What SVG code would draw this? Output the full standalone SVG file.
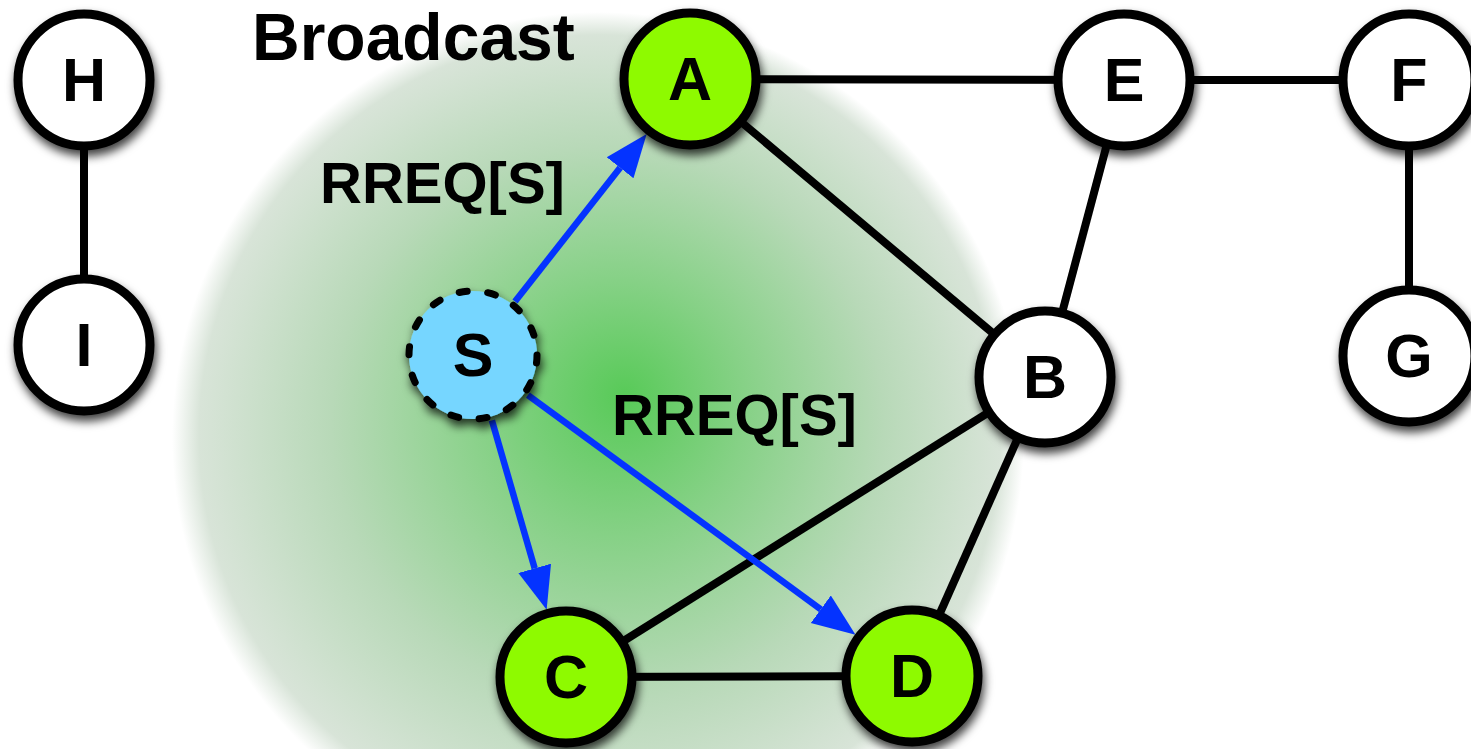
<svg xmlns="http://www.w3.org/2000/svg" width="1471" height="749" viewBox="0 0 1471 749">
  <defs>
    <radialGradient id="bcast" gradientUnits="userSpaceOnUse" cx="598" cy="438" r="426" fx="625" fy="395">
      <stop offset="0" stop-color="#58ca58"/>
      <stop offset="0.3" stop-color="#86d186"/>
      <stop offset="0.65" stop-color="#b8d9b8"/>
      <stop offset="0.94" stop-color="#d8e4d8"/>
      <stop offset="1" stop-color="#ffffff"/>
    </radialGradient>
    <filter id="shadow" x="-30%" y="-30%" width="160%" height="160%">
      <feDropShadow dx="2" dy="6" stdDeviation="5" flood-color="#000" flood-opacity="0.75"/>
    </filter>
    <marker id="arrow" markerUnits="userSpaceOnUse" markerWidth="44" markerHeight="36" refX="0" refY="17" orient="auto" viewBox="0 0 44 34">
      <path d="M0,0 L43,17 L0,34 z" fill="#0433ff"/>
    </marker>
    <style>
      .edge { stroke: #000; stroke-width: 8; fill: none; }
      .arr { stroke: #0433ff; stroke-width: 6.5; fill: none; marker-end: url(#arrow); }
      .node { stroke: #000; stroke-width: 9; filter: url(#shadow); }
      .white { fill: #ffffff; }
      .green { fill: #8efa00; }
      .src { fill: #76d6ff; stroke: #000; stroke-width: 7; stroke-dasharray: 8 20.72; stroke-linecap: round; filter: url(#shadow); }
      .lbl { font-family: "Liberation Sans", Arial, sans-serif; font-weight: bold; font-size: 61px; text-anchor: middle; fill: #000; }
      .txt { font-family: "Liberation Sans", Arial, sans-serif; font-weight: bold; fill: #000; }
    </style>
  </defs>

  <rect x="0" y="0" width="1471" height="749" fill="#ffffff"/>
  <circle cx="598" cy="438" r="426" fill="url(#bcast)"/>

  <text class="txt" x="252" y="60" font-size="66">Broadcast</text>
  <text class="txt" x="320" y="203" font-size="58">RREQ[S]</text>
  <text class="txt" x="612" y="435" font-size="58">RREQ[S]</text>

  <g id="connectors">
    <line class="edge" x1="84" y1="80" x2="84" y2="345"/>
    <line class="edge" x1="690" y1="79" x2="1124" y2="80"/>
    <line class="edge" x1="1124" y1="80" x2="1409" y2="80"/>
    <line class="edge" x1="690" y1="79" x2="1045" y2="377"/>
    <line class="edge" x1="1124" y1="80" x2="1045" y2="377"/>
    <line class="edge" x1="1409" y1="80" x2="1409" y2="356"/>
    <line class="edge" x1="1045" y1="377" x2="566" y2="677"/>
    <line class="edge" x1="1045" y1="377" x2="912" y2="676"/>
    <line class="edge" x1="566" y1="677" x2="912" y2="676"/>
    <line class="arr" x1="515" y1="301.5" x2="620.1" y2="167.8"/>
    <line class="arr" x1="491.9" y1="420.4" x2="534.7" y2="568.4"/>
    <line class="arr" x1="527.9" y1="395.1" x2="820.8" y2="609.3"/>
  </g>

  <g id="node-H"><circle class="node white" cx="84" cy="80" r="66"/><text class="lbl" x="84" y="101">H</text></g>
  <g id="node-I"><circle class="node white" cx="84" cy="345" r="66"/><text class="lbl" x="84" y="366">I</text></g>
  <g id="node-A"><circle class="node green" cx="690" cy="79" r="66"/><text class="lbl" x="690" y="100">A</text></g>
  <g id="node-E"><circle class="node white" cx="1124" cy="80" r="66"/><text class="lbl" x="1124" y="101">E</text></g>
  <g id="node-F"><circle class="node white" cx="1409" cy="80" r="66"/><text class="lbl" x="1409" y="101">F</text></g>
  <g id="node-G"><circle class="node white" cx="1409" cy="356" r="66"/><text class="lbl" x="1409" y="377">G</text></g>
  <g id="node-B"><circle class="node white" cx="1045" cy="377" r="66"/><text class="lbl" x="1045" y="398">B</text></g>
  <g id="node-C"><circle class="node green" cx="566" cy="677" r="66"/><text class="lbl" x="566" y="698">C</text></g>
  <g id="node-D"><circle class="node green" cx="912" cy="676" r="66"/><text class="lbl" x="912" y="697">D</text></g>
  <g id="node-S"><circle class="src" cx="473" cy="355" r="64"/><text class="lbl" x="473" y="376">S</text></g>
</svg>
